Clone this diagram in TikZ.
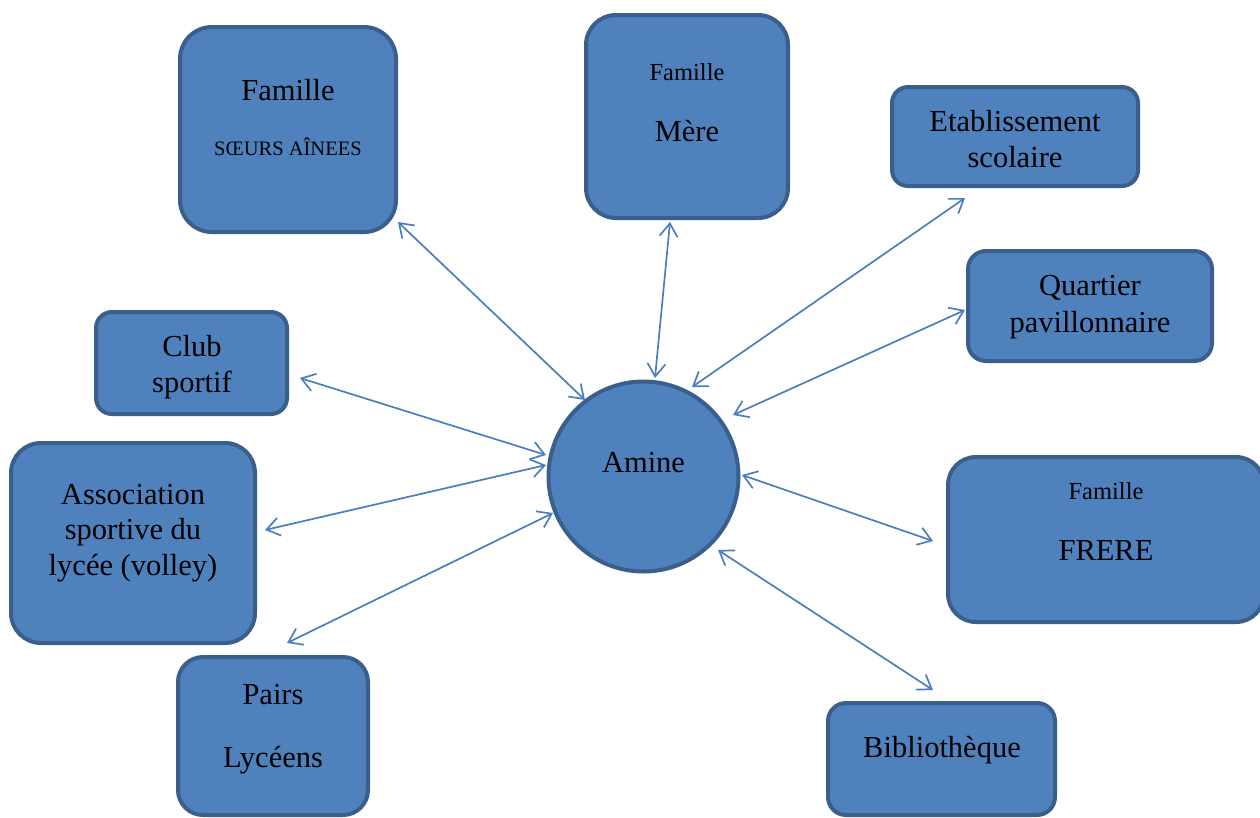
\documentclass[tikz,border=0pt]{standalone}
\usepackage{fontspec}
\setmainfont{Liberation Serif}
\usetikzlibrary{arrows.meta}
\definecolor{boxfill}{HTML}{4F81BD}
\definecolor{boxline}{HTML}{3A5F8C}
\definecolor{arrowc}{HTML}{4A7EBF}
\tikzset{
  box/.style={draw=boxline, fill=boxfill, line width=4pt, inner sep=0pt, outer sep=0pt},
  big/.style={anchor=base, inner sep=0pt, font=\fontsize{30.5}{36}\selectfont},
  small/.style={anchor=base, inner sep=0pt, font=\fontsize{24.5}{29}\selectfont},
  caps/.style={anchor=base, inner sep=0pt, font=\fontsize{20.5}{24}\selectfont},
  conn/.style={draw=arrowc, line width=1.7pt, {Straight Barb[length=13pt,width=18pt]}-{Straight Barb[length=13pt,width=18pt]}}
}
\begin{document}
\begin{tikzpicture}[x=1pt,y=-1pt]
\useasboundingbox (0,0) rectangle (1260,817);
% boxes
\node[box, rounded corners=32pt, minimum width=216pt, minimum height=205pt] (soeurs) at (288,129.5) {};
\node[box, rounded corners=30pt, minimum width=202pt, minimum height=203pt] (mere) at (687,116.5) {};
\node[box, rounded corners=16pt, minimum width=246pt, minimum height=99pt] (etab) at (1015,136.5) {};
\node[box, rounded corners=18pt, minimum width=244pt, minimum height=110pt] (quartier) at (1090,306) {};
\node[box, rounded corners=28pt, minimum width=316pt, minimum height=165pt] (frere) at (1106,539.5) {};
\node[box, rounded corners=18pt, minimum width=227pt, minimum height=112pt] (biblio) at (941.5,759) {};
\node[box, rounded corners=25pt, minimum width=190pt, minimum height=158pt] (pairs) at (273,736) {};
\node[box, rounded corners=30pt, minimum width=244pt, minimum height=200pt] (assoc) at (133,543) {};
\node[box, rounded corners=16pt, minimum width=191pt, minimum height=102pt] (club) at (191.5,363) {};
\node[box, circle, minimum size=190pt] (amine) at (643.5,476.5) {};
% texts
\node[big] (t-soeurs1) at (288,100) {Famille};
\node[caps] (t-soeurs2) at (288,155) {SŒURS AÎNEES};
\node[small] (t-mere1) at (687,80) {Famille};
\node[big] (t-mere2) at (687,141) {Mère};
\node[big] (t-etab1) at (1015,131) {Etablissement};
\node[big] (t-etab2) at (1015,167) {scolaire};
\node[big] (t-quart1) at (1090,295) {Quartier};
\node[big] (t-quart2) at (1090,332) {pavillonnaire};
\node[small] (t-frere1) at (1106,499) {Famille};
\node[big] (t-frere2) at (1106,560) {FRERE};
\node[big] (t-biblio) at (942,757) {Bibliothèque};
\node[big] (t-pairs1) at (273,704) {Pairs};
\node[big] (t-pairs2) at (273,767) {Lycéens};
\node[big] (t-assoc1) at (133,504) {Association};
\node[big] (t-assoc2) at (133,539) {sportive du};
\node[big] (t-assoc3) at (133,575) {lycée (volley)};
\node[big] (t-club1) at (192,356) {Club};
\node[big] (t-club2) at (192,392) {sportif};
\node[big] (t-amine) at (643.5,472) {Amine};
% connector ends
\coordinate (s1) at (398,222); \coordinate (s2) at (585,400);
\coordinate (m1) at (670,222); \coordinate (m2) at (655,378);
\coordinate (e1) at (965,198); \coordinate (e2) at (692,387);
\coordinate (q1) at (965,310); \coordinate (q2) at (733,415);
\coordinate (f1) at (933,541); \coordinate (f2) at (742,475);
\coordinate (b1) at (933,690); \coordinate (b2) at (718,550);
\coordinate (p1) at (287,643); \coordinate (p2) at (553,513);
\coordinate (a1) at (265,530); \coordinate (a2) at (546,465);
\coordinate (c1) at (300,378); \coordinate (c2) at (546,455);
\draw[conn] (s1) -- (s2);
\draw[conn] (m1) -- (m2);
\draw[conn] (e1) -- (e2);
\draw[conn] (q1) -- (q2);
\draw[conn] (f1) -- (f2);
\draw[conn] (b1) -- (b2);
\draw[conn] (p1) -- (p2);
\draw[conn] (a1) -- (a2);
\draw[conn] (c1) -- (c2);
\end{tikzpicture}
\end{document}
